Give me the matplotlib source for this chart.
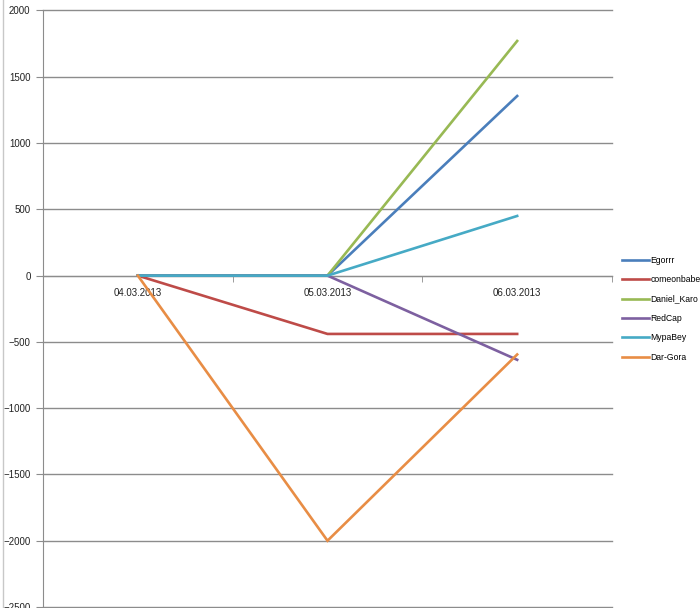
import matplotlib
matplotlib.use("Agg")
import matplotlib.pyplot as plt
from matplotlib.lines import Line2D

dates = ["04.03.2013", "05.03.2013", "06.03.2013"]
names = ["Egorrr", "comeonbabe", "Daniel_Karo", "RedCap", "MypaBey", "Dar-Gora"]
egorrr = [0, 0, 1355]
comeonbabe = [0, -440, -440]
daniel_karo = [0, 0, 1770]
redcap = [0, 0, -635]
mypabey = [0, 0, 450]
dar_gora = [0, -2000, -595]
series = [egorrr, comeonbabe, daniel_karo, redcap, mypabey, dar_gora]
colorslist = ['#4A7EBB', '#BE4B48', '#98B954', '#7D60A0', '#46AAC5', '#E88D45']

plt.rcParams['font.family'] = ['Liberation Sans', 'DejaVu Sans']
fig = plt.figure(figsize=(7, 6.08), dpi=100)
ax = fig.add_axes([43 / 700, 1 / 608, 569 / 700, 596.5 / 608])

x = list(range(len(dates)))
for i in range(len(names)):
    ax.plot(x, series[i], color=colorslist[i], lw=1.9, label=names[i],
            solid_joinstyle='miter', zorder=3 + i)

ax.set_xlim(-0.5, len(dates) - 0.5)
ax.set_ylim(-2500, 2000)
ax.set_yticks(range(-2500, 2001, 500))
ax.yaxis.grid(True, color='#8C8C8C', lw=1)
for gl in ax.get_ygridlines():
    gl.set_clip_on(False)
ax.set_axisbelow(True)

for s in ['top', 'right']:
    ax.spines[s].set_visible(False)
ax.spines['left'].set_color('#8C8C8C')
ax.spines['bottom'].set_position(('data', 0))
ax.spines['bottom'].set_color('#8C8C8C')

ax.set_xticks(x)
ax.set_xticklabels(dates)
ax.set_xticks([-0.5, 0.5, 1.5, 2.5], minor=True)
ax.tick_params(axis='x', which='major', length=0, pad=9, labelsize=7, labelcolor='#222222')
ax.tick_params(axis='x', which='minor', length=4, color='#8C8C8C', direction='out')
ax.tick_params(axis='y', length=5, color='#8C8C8C', labelsize=7, labelcolor='#222222', pad=4)
ax.patch.set_alpha(0)

fig.legend(loc='upper left', bbox_to_anchor=(622 / 700, 1 - 256 / 608), frameon=False,
           fontsize=6.2, handlelength=3.1, handletextpad=0.2, labelspacing=1.2,
           borderpad=0, borderaxespad=0)

fig.add_artist(Line2D([2.5 / 700, 2.5 / 700], [0, 1], color='#C8C8C8', lw=1))

fig.savefig("out.png", dpi=100)
